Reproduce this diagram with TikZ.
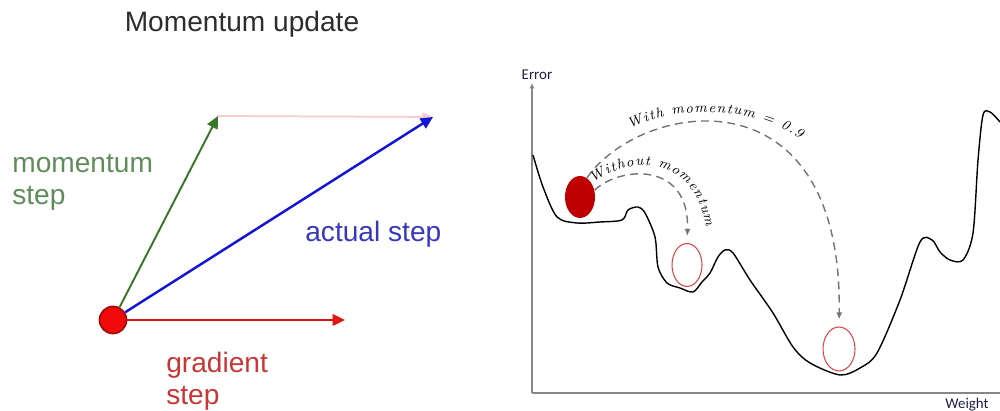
\documentclass[tikz,border=0pt]{standalone}
\usepackage{fontspec}
\newfontfamily\slidefont{Liberation Sans}
\newfontfamily\axisfont{Carlito}
\usetikzlibrary{arrows.meta,shapes.geometric,decorations.text}
\definecolor{TitleGray}{RGB}{45,45,45}
\definecolor{MomGreen}{RGB}{56,118,40}
\definecolor{MomText}{RGB}{95,140,90}
\definecolor{ActBlue}{RGB}{20,20,215}
\definecolor{ActText}{RGB}{55,55,190}
\definecolor{GradRed}{RGB}{225,20,20}
\definecolor{GradText}{RGB}{200,55,55}
\definecolor{DotRed}{RGB}{240,10,10}
\definecolor{DotEdge}{RGB}{165,10,10}
\definecolor{BallRed}{RGB}{190,0,0}
\definecolor{RingRed}{RGB}{215,70,70}
\definecolor{PathGray}{RGB}{115,115,115}
\definecolor{AxisGray}{RGB}{135,135,135}
\definecolor{PinkArrow}{RGB}{245,205,205}
\definecolor{AxisText}{RGB}{30,30,70}
\tikzset{
  vec/.style={-{Triangle[length=7pt,width=6.5pt]},line width=1.3pt},
  slide/.style={font=\slidefont\fontsize{16}{18.7}\selectfont,inner sep=0pt,align=left},
  origin/.style={circle,draw=DotEdge,line width=1pt,fill=DotRed,minimum size=0.54cm,inner sep=0pt},
  ball/.style={ellipse,fill=BallRed,minimum width=0.6cm,minimum height=0.84cm,inner sep=0pt},
  ring/.style={ellipse,draw=RingRed,line width=0.6pt,minimum width=0.6cm,minimum height=0.86cm,inner sep=0pt},
  jump/.style={-{Latex[length=4pt,width=3.5pt]},draw=PathGray,line width=0.8pt,dash pattern=on 4.5pt off 3pt,shorten >=4pt},
  axis/.style={draw=AxisGray,line width=0.9pt},
  axislabel/.style={font=\axisfont\fontsize{8.5}{9}\selectfont,text=AxisText,inner sep=0pt},
  hand/.style={decorate,decoration={text along path,text align={fit to path},
    text format delimiters={|}{|},text={|\fontsize{8}{8}\selectfont\itshape|#1}}}
}
\begin{document}
\begin{tikzpicture}[x=0.02cm,y=0.02cm]
  \useasboundingbox (0,0) rectangle (1000,411);
  \node[slide,text=TitleGray] (title) at (242,387) {Momentum update};
  \node[origin] (o) at (113,91) {};
  \coordinate (mtip) at (218,295);
  \coordinate (atip) at (433,294);
  \coordinate (gtip) at (345,91);
  \draw[vec,line width=1pt,draw=PinkArrow,-{Triangle[length=6pt,width=5pt]}] (mtip) -- (atip);
  \draw[vec,draw=MomGreen,line width=1.1pt] (o) -- (mtip);
  \draw[vec,draw=ActBlue,line width=1.4pt] (o) -- (atip);
  \draw[vec,draw=GradRed,line width=1.2pt] (o) -- (gtip);
  \node[slide,text=MomText,anchor=base west] (mlabel) at (12,206) {momentum\\step};
  \node[slide,text=ActText,anchor=base west] (alabel) at (305,169) {actual step};
  \node[slide,text=GradText,anchor=base west] (glabel) at (166,6) {gradient\\step};

  \coordinate (orig) at (532,18);
  \coordinate (ytop) at (532,328);
  \coordinate (xend) at (1000,18);
  \draw[axis,-{Latex[length=3pt,width=3pt]}] (orig) -- (ytop);
  \draw[axis] (orig) -- (xend);
  \node[axislabel] (ylabel) at (537,336) {Error};
  \node[axislabel] (xlabel) at (967,6) {Weight};
  \draw[line width=0.8pt,line join=round] plot[smooth,tension=0.5] coordinates {
    (533,256) (543,224) (557,194) (577,188) (600,189) (622,191) (628,201)
    (638,204) (645,198) (655,174) (658,144) (667,128) (680,123) (693,119)
    (702,129) (710,138) (718,154) (725,161) (733,158) (750,131) (773,98)
    (793,64) (810,48) (840,36) (860,43) (877,58) (900,111) (920,169)
    (932,171) (940,159) (950,151) (963,151) (973,178) (978,251) (983,296)
    (990,299) (1000,289)};
  \node[ball] (b) at (580,214) {};
  \node[ring] (t1) at (687,146) {};
  \node[ring,minimum width=0.64cm,minimum height=0.88cm] (t2) at (839,62) {};
  \draw[jump] (b.70) .. controls (640,310) and (843,345) .. (t2.north);
  \draw[jump] (b.25) .. controls (620,245) and (690,250) .. (t1.north);
  \path[hand={With momentum = 0.9}] (630,282) .. controls (675,306) and (752,306) .. (800,272);
  \path[hand={Without momentum}] (593,228) .. controls (638,260) and (695,250) .. (706,184);
\end{tikzpicture}
\end{document}
